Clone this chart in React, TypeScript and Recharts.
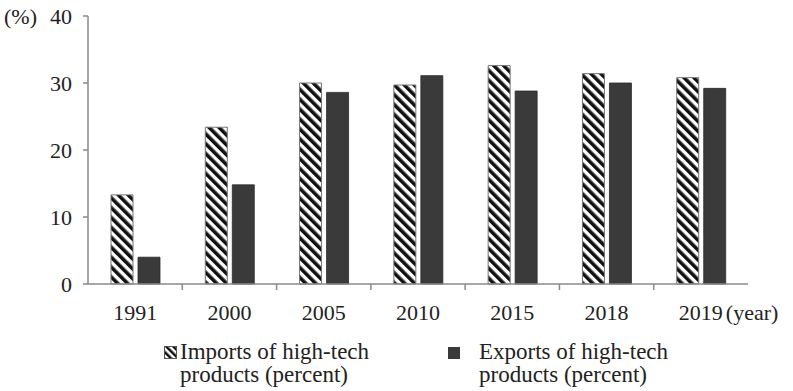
import React from 'react';
import { BarChart, Bar, XAxis, YAxis } from 'recharts';

const years = ['1991', '2000', '2005', '2010', '2015', '2018', '2019'];
const importsPct = [13.3, 23.4, 30.0, 29.7, 32.6, 31.4, 30.8];
const exportsPct = [4.0, 14.8, 28.6, 31.1, 28.8, 30.0, 29.2];
const yTicks = [0, 10, 20, 30, 40];
const seriesNames = ['Imports of high-tech', 'Exports of high-tech'];
const seriesSub = 'products (percent)';

const data = years.map((y, i) => ({ year: y, imp: importsPct[i], exp: exportsPct[i] }));

const FONT = '"Liberation Serif", "Times New Roman", serif';
const TEXT = '#222';
const AXIS = '#8a8a8a';
const DARK = '#3a3a3a';
const FS = 22;

const XTick = (props: any) => {
  const { x, y, payload, index } = props;
  const off = payload && typeof payload.offset === 'number' && payload.offset > 0 ? payload.offset : 47;
  const isLast = index === years.length - 1;
  return (
    <g>
      {!isLast && <line x1={x + off} y1={y} x2={x + off} y2={y + 6} stroke={AXIS} strokeWidth={1.5} />}
      <text x={x} y={y + 28} textAnchor="middle" dominantBaseline="central" fontFamily={FONT} fontSize={FS} fill={TEXT}>
        {payload.value}
      </text>
      {isLast && (
        <text x={x + 25} y={y + 28} textAnchor="start" dominantBaseline="central" fontFamily={FONT} fontSize={FS} fill={TEXT}>
          (year)
        </text>
      )}
    </g>
  );
};

const YTick = (props: any) => {
  const { x, y, payload } = props;
  return (
    <g>
      <text x={x} y={y} textAnchor="end" dominantBaseline="central" fontFamily={FONT} fontSize={FS} fill={TEXT}>
        {payload.value}
      </text>
      {payload.value === 40 && (
        <text x={4} y={y} textAnchor="start" dominantBaseline="central" fontFamily={FONT} fontSize={FS} fill={TEXT}>
          (%)
        </text>
      )}
    </g>
  );
};

const legendText: React.CSSProperties = {
  fontFamily: FONT,
  fontSize: 23,
  color: TEXT,
  lineHeight: '23px',
  position: 'absolute',
  whiteSpace: 'nowrap',
};

export default function App() {
  return (
    <div style={{ position: 'absolute', left: 0, top: 0, width: 793, height: 391, background: '#fff' }}>
      <BarChart
        width={793}
        height={391}
        data={data}
        margin={{ top: 16, right: 45, left: 0, bottom: 62 }}
        barCategoryGap={23}
        barGap={5}
      >
        <defs>
          <pattern id="stripes" patternUnits="userSpaceOnUse" width="7" height="7" patternTransform="rotate(-45)">
            <rect x="0" y="0" width="7" height="7" fill="#fff" />
            <rect x="0" y="0" width="3.6" height="7" fill="#111" />
          </pattern>
        </defs>
        <XAxis
          dataKey="year"
          interval={0}
          height={45}
          tickSize={0}
          tickMargin={0}
          tickLine={false}
          axisLine={{ stroke: AXIS, strokeWidth: 1.5 }}
          tick={<XTick />}
        />
        <YAxis
          width={88}
          domain={[0, 40]}
          ticks={yTicks}
          interval={0}
          tickSize={5}
          tickMargin={11}
          axisLine={{ stroke: AXIS, strokeWidth: 1.5 }}
          tickLine={{ stroke: AXIS, strokeWidth: 1.5 }}
          tick={<YTick />}
        />
        <Bar dataKey="imp" name={seriesNames[0]} fill="url(#stripes)" stroke="#777" strokeWidth={1} isAnimationActive={false} />
        <Bar dataKey="exp" name={seriesNames[1]} fill={DARK} stroke="#2a2a2a" strokeWidth={0.8} isAnimationActive={false} />
      </BarChart>
      <svg style={{ position: 'absolute', left: 164, top: 346 }} width={13} height={13}>
        <defs>
          <pattern id="stripesLegend" patternUnits="userSpaceOnUse" width="5" height="5" patternTransform="rotate(-45)">
            <rect x="0" y="0" width="5" height="5" fill="#fff" />
            <rect x="0" y="0" width="2.5" height="5" fill="#111" />
          </pattern>
        </defs>
        <rect x={0.5} y={0.5} width={12} height={12} fill="url(#stripesLegend)" stroke="#555" />
      </svg>
      <div style={{ ...legendText, left: 180, top: 340 }}>
        {seriesNames[0]}
        <br />
        {seriesSub}
      </div>
      <svg style={{ position: 'absolute', left: 448, top: 347 }} width={12} height={12}>
        <rect x={0} y={0} width={12} height={12} fill={DARK} />
      </svg>
      <div style={{ ...legendText, left: 479, top: 340 }}>
        {seriesNames[1]}
        <br />
        {seriesSub}
      </div>
    </div>
  );
}
